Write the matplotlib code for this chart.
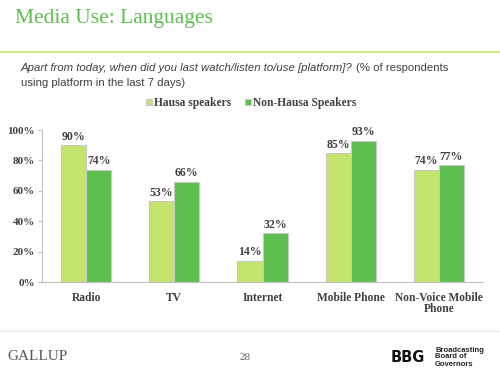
import matplotlib
matplotlib.use("Agg")
import matplotlib.pyplot as plt
import numpy as np
from matplotlib.lines import Line2D

categories = ["Radio", "TV", "Internet", "Mobile Phone", "Non-Voice Mobile\nPhone"]
hausa = [90, 53, 14, 85, 74]
non_hausa = [74, 66, 32, 93, 77]
series_names = ["Hausa speakers", "Non-Hausa Speakers"]
yticks = [0, 20, 40, 60, 80, 100]

light = "#c5e46e"
dark = "#5cbf4e"
edge = "#c8c8c8"
textc = "#404040"
serif = "Liberation Serif"

W, H = 500, 378
fig = plt.figure(figsize=(5, 3.78), dpi=100)

def fx(px): return px / W
def fy(py): return 1 - py / H

# Title
fig.text(fx(15), fy(18), "Media Use: Languages", family=serif, fontsize=15.5,
         color="#5cbf4e", va="center", ha="left")
fig.add_artist(Line2D([0, 1], [fy(52), fy(52)], color="#c5e46e", lw=1.2, transform=fig.transFigure))

# Subtitle (mixed italic / regular)
t1 = fig.text(fx(21), fy(68), "Apart from today, when did you last watch/listen to/use [platform]?",
              family="Liberation Sans", style="italic", fontsize=8.2, color=textc, va="center")
fig.canvas.draw()
bb = t1.get_window_extent()
fig.text(bb.x1 / fig.dpi / 5 + 0.006, fy(68), "(% of respondents", family="Liberation Sans",
         fontsize=8.2, color=textc, va="center")
fig.text(fx(21), fy(83), "using platform in the last 7 days)", family="Liberation Sans",
         fontsize=8.2, color=textc, va="center")

# Axes
ax = fig.add_axes([fx(42), fy(282), fx(483) - fx(42), fy(130) - fy(282)])
x = np.arange(len(categories))
bw = 0.285
b1 = ax.bar(x - bw / 2, hausa, bw, color=light, edgecolor=edge, linewidth=0.8)
b2 = ax.bar(x + bw / 2, non_hausa, bw, color=dark, edgecolor=edge, linewidth=0.8)
for bars, vals in ((b1, hausa), (b2, non_hausa)):
    for r, v in zip(bars, vals):
        ax.text(r.get_x() + r.get_width() / 2, v + 1.5, f"{v}%", ha="center", va="bottom",
                family=serif, fontweight="bold", fontsize=8.5, color=textc)
ax.set_xlim(-0.5, len(categories) - 0.5)
ax.set_ylim(0, 100)
ax.set_yticks(yticks)
ax.set_yticklabels([f"{t}%" for t in yticks], family=serif, fontweight="bold",
                   fontsize=8, color=textc)
ax.set_xticks(x)
ax.set_xticklabels(categories, family=serif, fontweight="bold", fontsize=8.3,
                   color=textc, linespacing=0.95)
ax.tick_params(axis="x", length=0, pad=7)
ax.tick_params(axis="y", length=3, color="#bfbfbf", pad=2)
for s in ("top", "right"):
    ax.spines[s].set_visible(False)
ax.spines["left"].set_color("#bfbfbf")
ax.spines["bottom"].set_color("#bfbfbf")

# Legend
leg = ax.legend([b1, b2], series_names, loc="center", bbox_to_anchor=(fx(251), fy(103)),
                bbox_transform=fig.transFigure, ncol=2, frameon=False,
                prop={"family": serif, "weight": "bold", "size": 8.3},
                handlelength=0.5, handleheight=0.5, handletextpad=0.2, columnspacing=1.2)
for t in leg.get_texts():
    t.set_color(textc)

# Footer
fig.add_artist(Line2D([0, 1], [fy(331), fy(331)], color="#e6e6e6", lw=0.8, transform=fig.transFigure))
fig.text(fx(7), fy(356), "GALLUP", family=serif, fontsize=11, color="#555555", va="center")
fig.text(fx(245), fy(357), "28", family=serif, fontsize=8, color="#666666", va="center", ha="center")
fig.text(fx(391), fy(357), "BBG", family="DejaVu Sans", fontweight="heavy", fontsize=10.5,
         color="#111111", va="center")
fig.text(fx(435), fy(357), "Broadcasting\nBoard of\nGovernors", family="Liberation Sans",
         fontweight="bold", fontsize=5.5, color="#222222", va="center", linespacing=1.0)

fig.savefig("out.png", dpi=100)
